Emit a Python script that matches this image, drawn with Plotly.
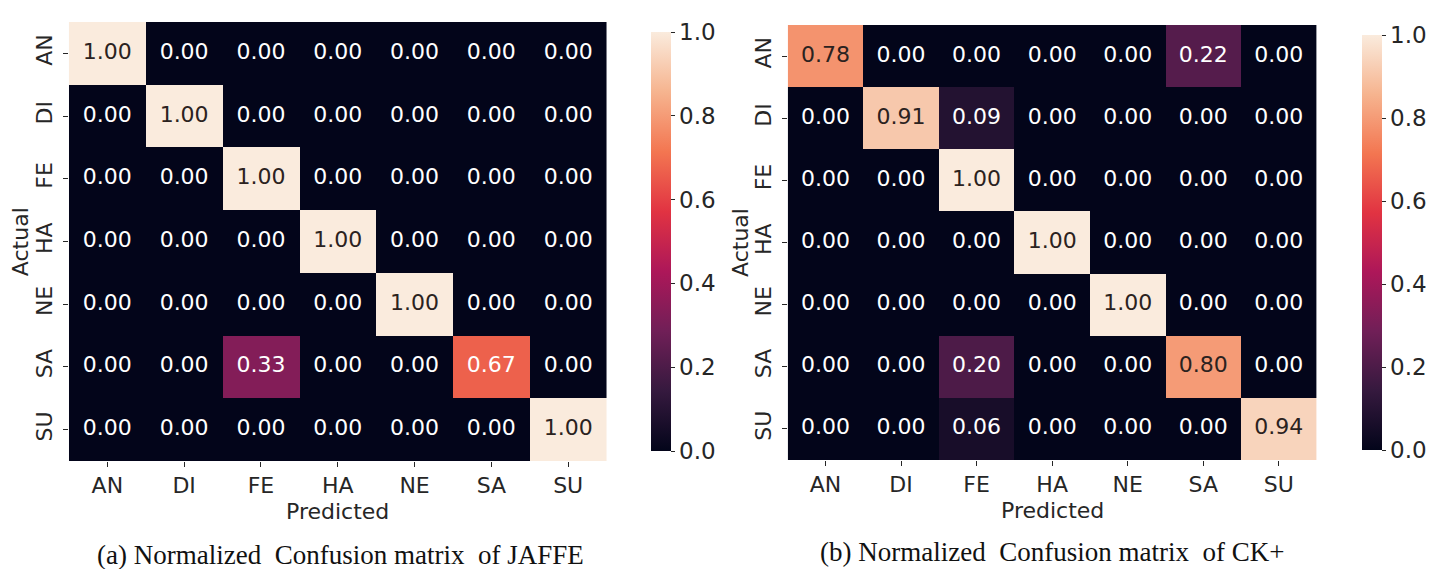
import plotly.graph_objects as go

labels = ["AN", "DI", "FE", "HA", "NE", "SA", "SU"]

jaffe = [
    [1.00, 0.00, 0.00, 0.00, 0.00, 0.00, 0.00],
    [0.00, 1.00, 0.00, 0.00, 0.00, 0.00, 0.00],
    [0.00, 0.00, 1.00, 0.00, 0.00, 0.00, 0.00],
    [0.00, 0.00, 0.00, 1.00, 0.00, 0.00, 0.00],
    [0.00, 0.00, 0.00, 0.00, 1.00, 0.00, 0.00],
    [0.00, 0.00, 0.33, 0.00, 0.00, 0.67, 0.00],
    [0.00, 0.00, 0.00, 0.00, 0.00, 0.00, 1.00],
]

ckplus = [
    [0.78, 0.00, 0.00, 0.00, 0.00, 0.22, 0.00],
    [0.00, 0.91, 0.09, 0.00, 0.00, 0.00, 0.00],
    [0.00, 0.00, 1.00, 0.00, 0.00, 0.00, 0.00],
    [0.00, 0.00, 0.00, 1.00, 0.00, 0.00, 0.00],
    [0.00, 0.00, 0.00, 0.00, 1.00, 0.00, 0.00],
    [0.00, 0.00, 0.20, 0.00, 0.00, 0.80, 0.00],
    [0.00, 0.00, 0.06, 0.00, 0.00, 0.00, 0.94],
]

captions = ["(a) Normalized  Confusion matrix  of JAFFE",
            "(b) Normalized  Confusion matrix  of CK+"]
colorbar_ticks = [0.0, 0.2, 0.4, 0.6, 0.8, 1.0]

rocket = [
    [0.0, "#03051a"],
    [1 / 7, "#35193e"],
    [2 / 7, "#701f57"],
    [3 / 7, "#ad1759"],
    [4 / 7, "#e13342"],
    [5 / 7, "#f37651"],
    [6 / 7, "#f6b48f"],
    [1.0, "#faebdd"],
]

W, H = 1437, 569
FONT = "DejaVu Sans"
TXT = "#262626"

# pixel boxes of the two plots
boxes = [
    dict(l=70, r=616, t=22, b=461, cb=651, actual_x=21, pred_y=511, cap_x=346, cap_y=555),
    dict(l=800, r=1337, t=25, b=460, cb=1373, actual_x=752, pred_y=510, cap_x=1068, cap_y=552),
]

fig = go.Figure()
annotations = []

for i, (mat, box) in enumerate(zip([jaffe, ckplus], boxes)):
    xa = "x" if i == 0 else "x2"
    ya = "y" if i == 0 else "y2"
    fig.add_trace(go.Heatmap(
        z=mat, x=labels, y=labels, xaxis=xa, yaxis=ya,
        colorscale=rocket, zmin=0, zmax=1,
        hoverinfo="skip",
        colorbar=dict(
            x=box["cb"] / W, xanchor="left", xref="paper",
            y=1 - box["t"] / H, yanchor="top", yref="paper",
            len=(box["b"] - box["t"]) / H, lenmode="fraction",
            thickness=20, thicknessmode="pixels",
            outlinewidth=0,
            tickvals=colorbar_ticks, tickformat=".1f",
            ticks="outside", ticklen=4, tickcolor=TXT,
            tickfont=dict(family=FONT, size=23, color=TXT),
        ),
    ))
    xs, ys, texts, colors = [], [], [], []
    for r, row in enumerate(mat):
        for c, v in enumerate(row):
            xs.append(labels[c])
            ys.append(labels[r])
            texts.append(f"{v:.2f}")
            colors.append("#2b2220" if v > 0.7 else "#ffffff")
    fig.add_trace(go.Scatter(
        x=xs, y=ys, text=texts, mode="text", xaxis=xa, yaxis=ya,
        textfont=dict(family=FONT, size=22, color=colors),
        hoverinfo="skip", showlegend=False,
    ))
    annotations.append(dict(
        text="Actual", xref="paper", yref="paper",
        x=box["actual_x"] / W, y=1 - (box["t"] + box["b"]) / 2 / H,
        textangle=-90, showarrow=False, xanchor="center", yanchor="middle",
        font=dict(family=FONT, size=22, color=TXT),
    ))
    annotations.append(dict(
        text="Predicted", xref="paper", yref="paper",
        x=(box["l"] + box["r"]) / 2 / W, y=1 - box["pred_y"] / H,
        showarrow=False, xanchor="center", yanchor="middle",
        font=dict(family=FONT, size=22, color=TXT),
    ))
    annotations.append(dict(
        text=captions[i], xref="paper", yref="paper",
        x=box["cap_x"] / W, y=1 - box["cap_y"] / H,
        showarrow=False, xanchor="center", yanchor="middle",
        font=dict(family="Liberation Serif", size=27, color="#111111"),
    ))

axis_common = dict(showgrid=False, zeroline=False, showline=False,
                   ticks="outside", ticklen=5, tickcolor=TXT,
                   tickfont=dict(family=FONT, size=22, color=TXT))

layout = dict(
    width=W, height=H,
    margin=dict(l=0, r=0, t=0, b=0),
    paper_bgcolor="white", plot_bgcolor="white",
    showlegend=False,
    annotations=annotations,
)
for i, box in enumerate(boxes):
    sx = "xaxis" if i == 0 else "xaxis2"
    sy = "yaxis" if i == 0 else "yaxis2"
    anc_x = "y" if i == 0 else "y2"
    anc_y = "x" if i == 0 else "x2"
    layout[sx] = dict(axis_common, domain=[box["l"] / W, box["r"] / W],
                      anchor=anc_x, type="category", categoryorder="array",
                      categoryarray=labels)
    layout[sy] = dict(axis_common, domain=[1 - box["b"] / H, 1 - box["t"] / H],
                      anchor=anc_y, type="category", categoryorder="array",
                      categoryarray=labels, autorange="reversed", tickangle=-90,
                      ticklabelstandoff=2)

fig.update_layout(**layout)
fig.write_html("out.html")
